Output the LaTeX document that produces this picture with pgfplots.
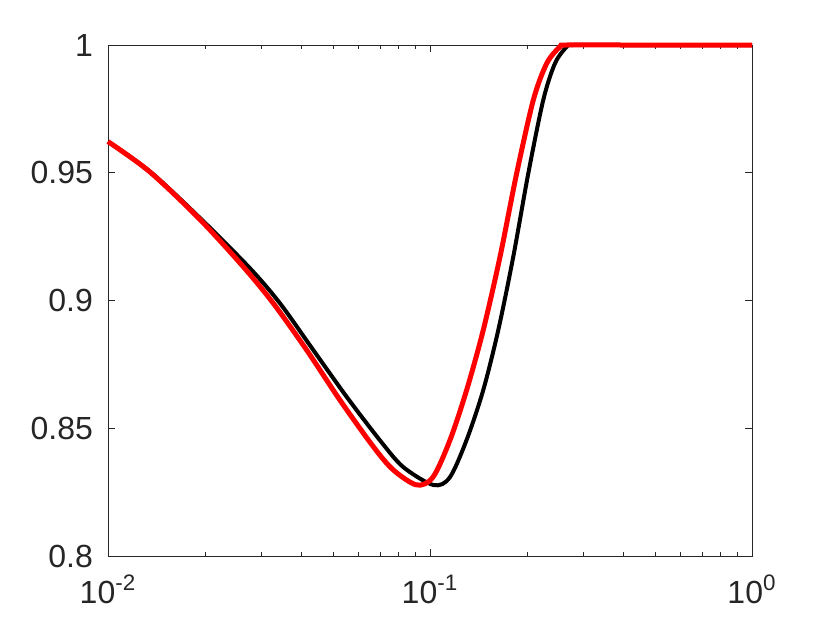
\documentclass[border=0pt]{standalone}
\usepackage{fontspec}
\setmainfont{Liberation Sans}
\usepackage{pgfplots}
\pgfplotsset{compat=1.18}
\definecolor{axgray}{gray}{0.15}

\begin{document}
\begin{tikzpicture}
\useasboundingbox (-54pt,-33.5pt) rectangle (361pt,278pt);
\begin{axis}[
    scale only axis,
    width=322pt, height=255.5pt,
    xmode=log,
    xmin=0.01, xmax=1,
    ymin=0.8, ymax=1,
    xtick={0.01,0.1,1},
    xticklabels={{10\textsuperscript{-2}},{10\textsuperscript{-1}},{10\textsuperscript{0}}},
    ytick={0.8,0.85,0.9,0.95,1},
    yticklabels={0.8,0.85,0.9,0.95,1},
    tick align=inside,
    major tick length=3.5pt,
    minor tick length=2pt,
    axis line style={axgray, line width=0.4pt},
    every tick/.style={axgray, line width=0.4pt},
    tick label style={font=\fontsize{16}{18}\selectfont, text=axgray},
    xticklabel style={yshift=-6pt},
    yticklabel style={xshift=-4pt},
    clip=false,
]
% black curve
\addplot[black, line width=2pt, smooth, tension=0.5] coordinates {
(0.01,0.9622) (0.0135,0.9505) (0.01945,0.9319) (0.02761,0.9126) (0.03421,0.8989)
(0.04341,0.8806) (0.05511,0.8623) (0.07020,0.8450) (0.08262,0.8348)
(0.1024,0.8278) (0.1151,0.8307) (0.1299,0.8454) (0.1464,0.8650) (0.1630,0.8885)
(0.1814,0.9171) (0.2020,0.9498) (0.2248,0.9785) (0.2444,0.9928) (0.2658,0.9993)
(0.2786,1) (0.4,1) (1,1)
};
% red curve
\addplot[red, line width=2.5pt, smooth, tension=0.5] coordinates {
(0.01,0.9622) (0.0135,0.9503) (0.01931,0.9317) (0.02632,0.9132) (0.03262,0.8989)
(0.04141,0.8806) (0.05254,0.8610) (0.06668,0.8428) (0.07691,0.8337) (0.09094,0.8278)
(0.1022,0.8309) (0.1154,0.8454) (0.1300,0.8650) (0.1464,0.8885) (0.1650,0.9171)
(0.1859,0.9498) (0.2094,0.9785) (0.2304,0.9928) (0.2533,0.9993) (0.2658,1) (0.4,1) (1,1)
};
\end{axis}
\end{tikzpicture}
\end{document}
